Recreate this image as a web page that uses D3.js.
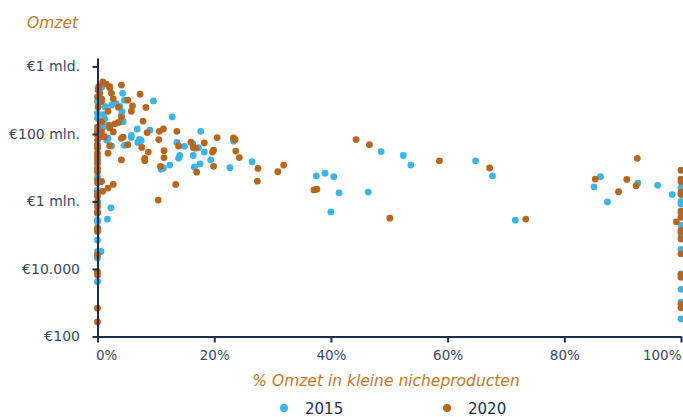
<!DOCTYPE html>
<html>
<head>
<meta charset="utf-8">
<script src="https://cdn.jsdelivr.net/npm/d3@7"></script>
<style>
  body { margin: 0; background: #fff; }
  svg { display: block; }
  svg text { font-family: "DejaVu Sans", sans-serif; }
</style>
</head>
<body>
<svg></svg>
<script>
const WIDTH = 683;
const HEIGHT = 417;

// --- data (x: % omzet in kleine nicheproducten, y: omzet in euro) ---
const series = ['2015', '2020'];
const colors = ['#3cb4e7', '#b7661d'];

const x2015 = [0.1, 0.7, 4.3, 4.6, 9.6, 0, 1.3, 2.4, 3.2, 3.8, 4.2, 0, 1.0, 4.1, 0, 1.2, 12.8, 4.4, 1.0, 1.5,
  6.8, 9.0, 17.7, 5.8, 5.8, 7.2, 7.5, 6.9, 1.8, 0, 4.6, 2.4, 1.6, 13.6, 14.9, 16.3, 17.3, 14.1, 13.9, 16.4,
  18.3, 19.4, 17.6, 16.6, 12.4, 11.3, 10.9, 22.7, 26.5, 23.3, 37.5, 39.0, 40.5, 41.4, 46.4, 40.0, 48.6, 52.4, 53.7, 64.8,
  67.7, 71.6, 86.2, 85.1, 87.4, 92.6, 96.0, 98.5,
  0, 0, 0, 0, 0, 0, 0, 0, 0, 0, 0.6, 1.7, 2.3,
  100, 100, 100, 100, 100, 100, 100, 100, 100, 100, 100, 100];
const y2015 = [2.4e9, 2.4e9, 1.6e9, 1.0e9, 9.5e8, 9.1e8, 6.4e8, 7.1e8, 7.9e8, 6.6e8, 4.6e8, 4.1e8, 3.7e8, 3.6e8, 2.9e8, 2.8e8, 3.2e8, 2.3e8, 1.6e8, 1.8e8,
  1.4e8, 1.3e8, 1.2e8, 9.0e7, 7.9e7, 6.9e7, 6.4e7, 5.6e7, 7.5e7, 4.7e7, 4.6e7, 4.4e7, 6.6e7, 5.6e7, 4.3e7, 5.2e7, 3.9e7, 2.3e7, 1.9e7, 2.3e7,
  2.9e7, 1.7e7, 1.3e7, 1.05e7, 1.2e7, 9.8e6, 9.0e6, 1.0e7, 1.5e7, 6.1e7, 5.7e6, 6.9e6, 5.4e6, 1.8e6, 1.9e6, 4.9e5, 3.0e7, 2.3e7, 1.2e7, 1.6e7,
  5.7e6, 2.8e5, 5.4e6, 2.7e6, 9.7e5, 3.5e6, 3.0e6, 1.6e6,
  5.4e6, 2.2e6, 8.8e5, 2.8e5, 2.5e5, 1.6e5, 7.2e4, 3.3e4, 2.1e4, 4.2e3, 3.3e4, 3.0e5, 6.5e5,
  2.6e6, 1.75e6, 1.0e6, 8.4e5, 4.5e5, 2.0e5, 9.5e4, 3.8e4, 7.1e3, 2.5e3, 1.05e3, 330];

const x2020 = [0.9, 1.5, 2.1, 0.3, 0.1, 0.4, 0, 0.7, 2.1, 2.4, 2.7, 4.1, 7.3, 5.2, 8.3, 6.0, 5.8, 3.6, 1.8, 0.1,
  0.7, 4.1, 7.8, 3.6, 0.7, 2.1, 3.0, 2.7, 2.1, 0.7, 0, 0.4, 4.4, 1.2, 4.1, 11.3, 10.6, 13.6, 8.5, 10.5,
  20.5, 23.3, 23.6, 16.0, 18.3, 13.9, 16.4, 16.8, 19.9, 19.7, 23.7, 24.3, 11.4, 11.4, 8.7, 7.6, 8.1, 8.1, 5.2, 2.1,
  1.8, 4.1, 10.8, 19.9, 17.0, 13.4, 10.4, 27.5, 27.4, 31.9, 30.9, 0.7, 0.9, 1.8, 2.7, 44.3, 46.6, 58.6, 37.1, 37.6,
  50.1, 67.2, 73.4, 92.5, 85.3, 90.7, 89.3, 92.3, 99.2,
  0, 0, 0, 0, 0, 0, 0, 0, 0, 0, 0, 0, 0, 0, 0, 0, 0, 0, 0, 0, 0, 0, 0, 0, 0, 0,
  100, 100, 100, 100, 100, 100, 100, 100, 100, 100, 100, 100, 100, 100, 100];
const y2020 = [3.5e9, 3.0e9, 2.5e9, 2.5e9, 2.0e9, 1.6e9, 1.25e9, 1.1e9, 2.3e9, 1.6e9, 1.1e9, 2.8e9, 1.5e9, 1.0e9, 6.1e8, 6.8e8, 4.7e8, 6.2e8, 4.7e8, 6.3e8,
  9.1e8, 3.1e8, 2.4e8, 2.2e8, 2.3e8, 1.8e8, 2.0e8, 1.15e8, 1.5e8, 1.15e8, 1.6e8, 8.1e7, 8.1e7, 8.3e7, 7.4e7, 1.4e8, 1.2e8, 1.2e8, 1.1e8, 6.8e7,
  7.8e7, 7.6e7, 6.8e7, 5.7e7, 5.4e7, 4.4e7, 4.0e7, 3.8e7, 3.3e7, 2.9e7, 3.1e7, 2.0e7, 3.2e7, 2.0e7, 2.9e7, 4.0e7, 1.9e7, 1.6e7, 4.8e7, 4.5e7,
  2.7e7, 1.7e7, 1.1e7, 1.1e7, 7.4e6, 3.2e6, 1.1e6, 9.5e6, 4.0e6, 1.2e7, 7.6e6, 3.9e6, 2.0e6, 2.5e6, 3.2e6, 6.8e7, 4.8e7, 1.6e7, 2.2e6, 2.3e6,
  3.2e5, 9.8e6, 3.0e5, 1.9e7, 4.6e6, 4.5e6, 1.95e6, 2.9e6, 2.5e5,
  1.2e8, 9.3e7, 6.6e7, 4.7e7, 3.8e7, 2.7e7, 2.1e7, 1.7e7, 1.3e7, 9.6e6, 7.6e6, 4.3e6, 3.5e6, 1.75e6, 1.4e6, 9.9e5, 7.0e5, 5.0e5, 4.5e5, 1.6e5, 1.3e5, 2.6e4, 8.3e3, 6.6e3, 690, 270,
  8.4e6, 4.6e6, 3.9e6, 1.9e6, 1.6e6, 5.2e5, 3.4e5, 1.4e5, 1.2e5, 7.7e4, 2.8e4, 6.8e3, 5.7e3, 900, 710];

const xTicks = [0, 20, 40, 60, 80, 100];
const yTicks = [1e2, 1e4, 1e6, 1e8, 1e10];
const yTickLabels = ['€100', '€10.000', '€1 mln.', '€100 mln.', '€1 mld.'];

const pointsBySeries = [
  x2015.map((v, i) => ({ x: v, y: y2015[i] })),
  x2020.map((v, i) => ({ x: v, y: y2020[i] }))
];

const AXIS = '#1f2c52';
const TEXT = '#3a4868';
const ACCENT = '#c27a2c';

let svg = d3.select('svg')
    .attr('width', WIDTH)
    .attr('height', HEIGHT);

// --- scales ---
let x = d3.scaleLinear()
    .domain([0, 100])
    .range([97.5, 681]);

let y = d3.scaleLog()
    .domain([100, Math.pow(10, 10.25)])
    .range([336.5, 58]);

// points (drawn first so the axes sit on top)
pointsBySeries.forEach((pts, s) => {
    svg.append('g')
        .classed('series-' + series[s], true)
        .selectAll('circle')
        .data(pts)
        .enter()
        .append('circle')
            .attr('cx', (d) => x(d.x))
            .attr('cy', (d) => y(d.y))
            .attr('r', 3.4)
            .attr('fill', colors[s]);
});

// axes
let xAxis = svg.append('g')
    .attr('transform', `translate(0, ${y(100)})`)
    .call(d3.axisBottom(x)
        .tickValues(xTicks)
        .tickFormat((d) => d + '%')
        .tickSizeInner(6)
        .tickSizeOuter(0)
        .tickPadding(8));

// keep the outer labels inside the plot width
xAxis.selectAll('.tick text')
    .attr('text-anchor', (d, i) => i === 0 ? 'start' : (i === xTicks.length - 1 ? 'end' : 'middle'))
    .attr('dx', (d, i) => i === 0 ? -2 : 0);

let yAxis = svg.append('g')
    .attr('transform', `translate(${x(0)}, 0)`)
    .call(d3.axisLeft(y)
        .tickValues(yTicks)
        .tickFormat((d, i) => yTickLabels[i])
        .tickSizeInner(5)
        .tickSizeOuter(0)
        .tickPadding(12.5));

for (const ax of [xAxis, yAxis]) {
    ax.attr('font-family', null).attr('font-size', null);
    ax.select('.domain').attr('stroke', AXIS).attr('stroke-width', 2);
    ax.selectAll('.tick line').attr('stroke', AXIS).attr('stroke-width', 2);
    ax.selectAll('.tick text').attr('fill', TEXT);
}
xAxis.selectAll('.tick text').style('font-size', '13.5px');
yAxis.selectAll('.tick text').style('font-size', '14px');

// titles
svg.append('text')
    .attr('x', 27)
    .attr('y', 28)
    .attr('fill', ACCENT)
    .style('font-style', 'italic')
    .style('font-size', '15.5px')
    .text('Omzet');

svg.append('text')
    .attr('x', 386)
    .attr('y', 386)
    .attr('text-anchor', 'middle')
    .attr('fill', ACCENT)
    .style('font-style', 'italic')
    .style('font-size', '15.5px')
    .text('% Omzet in kleine nicheproducten');

// legend
let legend = svg.append('g')
    .selectAll('g')
    .data(series)
    .enter()
    .append('g')
        .attr('transform', (d, i) => `translate(${284 + i * 163}, 408)`);
legend.append('circle')
    .attr('r', 4)
    .attr('fill', (d, i) => colors[i]);
legend.append('text')
    .attr('x', 21)
    .attr('y', 5.5)
    .attr('fill', AXIS)
    .style('font-size', '15px')
    .text((d) => d);
</script>
</body>
</html>
